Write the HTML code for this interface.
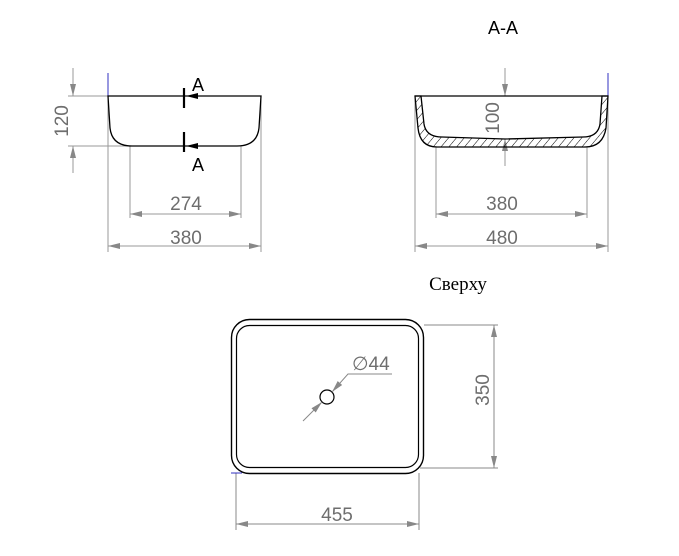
<!DOCTYPE html>
<html><head><meta charset="utf-8"><style>
html,body{margin:0;padding:0;background:#fff;}
svg{display:block;}
.d{font-family:"Liberation Sans",sans-serif;font-size:19px;fill:#6e6e6e;}
</style></head><body>
<svg width="679" height="556" viewBox="0 0 679 556" xmlns="http://www.w3.org/2000/svg">
<defs>
<pattern id="h" width="6" height="6" patternUnits="userSpaceOnUse" patternTransform="rotate(40)">
<line x1="0" y1="0" x2="0" y2="6" stroke="#000" stroke-width="1"/>
</pattern>
<marker id="a" viewBox="0 0 12 6" refX="12" refY="3" markerWidth="12" markerHeight="6" markerUnits="userSpaceOnUse" orient="auto-start-reverse">
<path d="M0,0 L12,3 L0,6 z" fill="#888"/>
</marker>
<marker id="k" viewBox="0 0 12 6" refX="12" refY="3" markerWidth="12" markerHeight="6" markerUnits="userSpaceOnUse" orient="auto">
<path d="M0,0 L12,3 L0,6 z" fill="#000"/>
</marker>
</defs>

<!-- Left view -->
<g fill="none" stroke="#999" stroke-width="1">
<line x1="68" y1="96" x2="108" y2="96"/>
<line x1="68" y1="146" x2="130" y2="146"/>
<line x1="73" y1="68" x2="73" y2="96" marker-end="url(#a)"/>
<line x1="73" y1="173" x2="73" y2="146" marker-end="url(#a)"/>
<line x1="130" y1="146" x2="130" y2="218"/>
<line x1="241" y1="146" x2="241" y2="218"/>
<line x1="130" y1="214" x2="241" y2="214" marker-start="url(#a)" marker-end="url(#a)"/>
<line x1="108" y1="96" x2="108" y2="252"/>
<line x1="261" y1="96" x2="261" y2="252"/>
<line x1="108" y1="246" x2="261" y2="246" marker-start="url(#a)" marker-end="url(#a)"/>
</g>
<line x1="108" y1="73" x2="108" y2="96" stroke="#3030c0" stroke-width="1"/>
<path d="M108,96 L261,96 L259,128 Q257,146 237,146 L132,146 Q112,146 110,128 Z" fill="none" stroke="#000" stroke-width="1.3"/>
<g stroke="#000" stroke-width="2.2">
<line x1="184" y1="88" x2="184" y2="108"/>
<line x1="184" y1="132" x2="184" y2="152"/>
</g>
<line x1="199" y1="96" x2="186" y2="96" stroke="#000" marker-end="url(#k)"/>
<line x1="199" y1="146" x2="186" y2="146" stroke="#000" marker-end="url(#k)"/>
<text x="192" y="91" font-family="Liberation Sans,sans-serif" font-size="18">A</text>
<text x="192" y="171" font-family="Liberation Sans,sans-serif" font-size="18">A</text>
<text class="d" transform="translate(68,121) rotate(-90)" text-anchor="middle">120</text>
<text class="d" x="186" y="210" text-anchor="middle">274</text>
<text class="d" x="186" y="244" text-anchor="middle">380</text>

<!-- Section A-A -->
<text x="503" y="34" font-family="Liberation Sans,sans-serif" font-size="18" text-anchor="middle">A-A</text>
<g fill="none" stroke="#999" stroke-width="1">
<line x1="505" y1="68" x2="505" y2="96" marker-end="url(#a)"/>
<line x1="505" y1="166" x2="505" y2="139" marker-end="url(#a)"/>
<line x1="436" y1="147" x2="436" y2="218"/>
<line x1="587" y1="147" x2="587" y2="218"/>
<line x1="436" y1="214" x2="587" y2="214" marker-start="url(#a)" marker-end="url(#a)"/>
<line x1="415" y1="96" x2="415" y2="252"/>
<line x1="608" y1="96" x2="608" y2="252"/>
<line x1="415" y1="246" x2="608" y2="246" marker-start="url(#a)" marker-end="url(#a)"/>
</g>
<line x1="608" y1="73" x2="608" y2="96" stroke="#3030c0" stroke-width="1"/>
<path d="M415,96 L421,96 L424,124 Q426,137 442,137 L505,139 L583,137 Q598,137 600,124 L602,96 L608,96 L606,128 Q603,147 585,147 L437,147 Q420,147 418,128 Z" fill="url(#h)" stroke="#000" stroke-width="1.3"/>
<line x1="415" y1="96" x2="608" y2="96" stroke="#000" stroke-width="1.3"/>
<line x1="505" y1="139" x2="516" y2="139" stroke="#000" stroke-width="1"/>
<text class="d" transform="translate(499,118) rotate(-90)" text-anchor="middle">100</text>
<text class="d" x="502" y="210" text-anchor="middle">380</text>
<text class="d" x="502" y="244" text-anchor="middle">480</text>

<!-- Top view -->
<text x="458" y="290" font-family="Liberation Serif,serif" font-size="19" text-anchor="middle">Сверху</text>
<rect x="231.5" y="319.5" width="192" height="154" rx="18" fill="none" stroke="#000" stroke-width="1.4"/>
<rect x="236.5" y="325.5" width="182" height="142" rx="13" fill="none" stroke="#000" stroke-width="1.2"/>
<circle cx="327" cy="397" r="7" fill="none" stroke="#000" stroke-width="1.2"/>
<g fill="none" stroke="#888" stroke-width="1">
<line x1="303" y1="421" x2="322" y2="402" marker-end="url(#a)"/>
<polyline points="392,374 348,374 332,392" marker-end="url(#a)"/>
<line x1="424" y1="325" x2="498" y2="325"/>
<line x1="420" y1="468" x2="498" y2="468"/>
<line x1="494" y1="325" x2="494" y2="468" marker-start="url(#a)" marker-end="url(#a)"/>
<line x1="236" y1="473" x2="236" y2="530"/>
<line x1="419" y1="473" x2="419" y2="530"/>
<line x1="236" y1="524" x2="419" y2="524" marker-start="url(#a)" marker-end="url(#a)"/>
</g>
<line x1="231" y1="473" x2="242" y2="473" stroke="#3030c0" stroke-width="1"/>
<text class="d" x="352" y="370">∅44</text>
<text class="d" transform="translate(489,390) rotate(-90)" text-anchor="middle">350</text>
<text class="d" x="337" y="521" text-anchor="middle">455</text>
</svg>
</body></html>
